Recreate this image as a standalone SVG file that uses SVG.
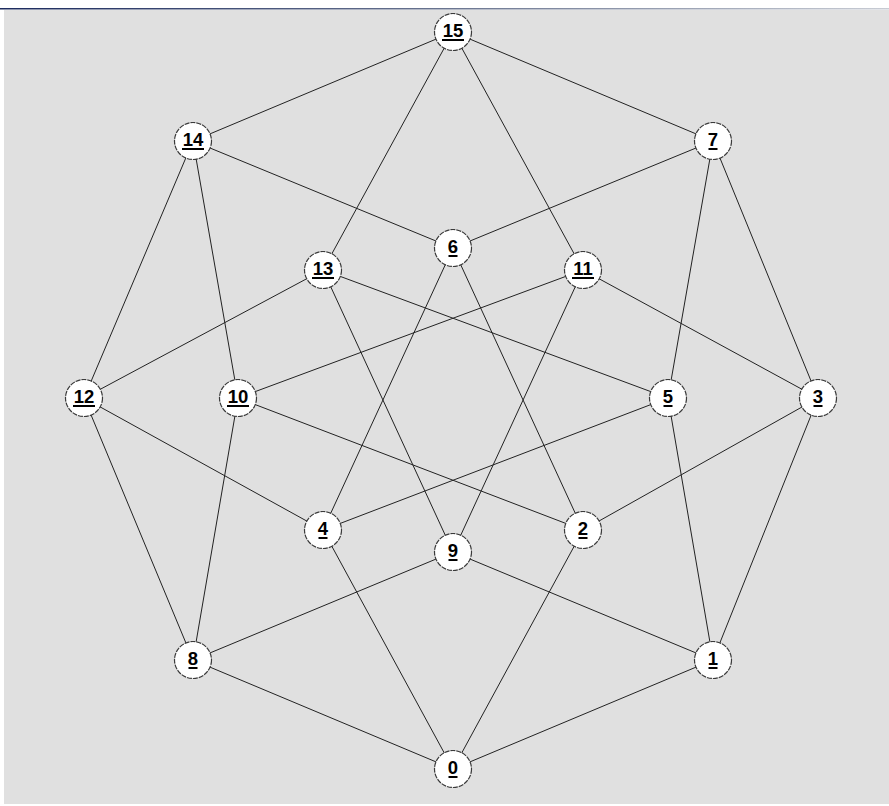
<svg xmlns="http://www.w3.org/2000/svg" width="889" height="806" viewBox="0 0 889 806">
<defs>
<linearGradient id="bar" x1="0" y1="0" x2="1" y2="0">
<stop offset="0" stop-color="#1c2b5e"/>
<stop offset="0.5" stop-color="#6a7590"/>
<stop offset="1" stop-color="#c8ccd4"/>
</linearGradient>
<style>
.e{stroke:#222;stroke-width:1;fill:none}
.n circle{fill:#fff;stroke:#3a3a3a;stroke-width:1.2;stroke-dasharray:5 1}
.n text{font-family:"Liberation Sans",Arial,sans-serif;font-weight:bold;font-size:18.5px;fill:#000;text-anchor:middle}
.n rect{fill:#000}
</style>
</defs>
<rect x="0" y="0" width="889" height="806" fill="#fff"/>
<rect x="0" y="8" width="889" height="1.5" fill="url(#bar)"/>
<rect x="4" y="10" width="885" height="794" fill="#e0e0e0"/>
<g id="edges">
<line class="e" x1="453" y1="769" x2="713" y2="660"/>
<line class="e" x1="453" y1="769" x2="583" y2="530"/>
<line class="e" x1="453" y1="769" x2="323" y2="530"/>
<line class="e" x1="453" y1="769" x2="193" y2="660"/>
<line class="e" x1="713" y1="660" x2="818" y2="398"/>
<line class="e" x1="713" y1="660" x2="668" y2="398"/>
<line class="e" x1="713" y1="660" x2="453" y2="552"/>
<line class="e" x1="583" y1="530" x2="818" y2="398"/>
<line class="e" x1="583" y1="530" x2="453" y2="248"/>
<line class="e" x1="583" y1="530" x2="238" y2="398"/>
<line class="e" x1="818" y1="398" x2="713" y2="141"/>
<line class="e" x1="818" y1="398" x2="583" y2="270"/>
<line class="e" x1="323" y1="530" x2="668" y2="398"/>
<line class="e" x1="323" y1="530" x2="453" y2="248"/>
<line class="e" x1="323" y1="530" x2="84" y2="398"/>
<line class="e" x1="668" y1="398" x2="713" y2="141"/>
<line class="e" x1="668" y1="398" x2="323" y2="270"/>
<line class="e" x1="453" y1="248" x2="713" y2="141"/>
<line class="e" x1="453" y1="248" x2="193" y2="141"/>
<line class="e" x1="713" y1="141" x2="453" y2="32"/>
<line class="e" x1="193" y1="660" x2="453" y2="552"/>
<line class="e" x1="193" y1="660" x2="238" y2="398"/>
<line class="e" x1="193" y1="660" x2="84" y2="398"/>
<line class="e" x1="453" y1="552" x2="583" y2="270"/>
<line class="e" x1="453" y1="552" x2="323" y2="270"/>
<line class="e" x1="238" y1="398" x2="583" y2="270"/>
<line class="e" x1="238" y1="398" x2="193" y2="141"/>
<line class="e" x1="583" y1="270" x2="453" y2="32"/>
<line class="e" x1="84" y1="398" x2="323" y2="270"/>
<line class="e" x1="84" y1="398" x2="193" y2="141"/>
<line class="e" x1="323" y1="270" x2="453" y2="32"/>
<line class="e" x1="193" y1="141" x2="453" y2="32"/>
</g>
<g id="n0" class="n"><circle cx="453" cy="769" r="18.5"/><text x="453" y="774">0</text><rect x="448.5" y="776" width="9" height="2"/></g>
<g id="n1" class="n"><circle cx="713" cy="660" r="18.5"/><text x="713" y="665">1</text><rect x="708.5" y="667" width="9" height="2"/></g>
<g id="n2" class="n"><circle cx="583" cy="530" r="18.5"/><text x="583" y="535">2</text><rect x="578.5" y="537" width="9" height="2"/></g>
<g id="n3" class="n"><circle cx="818" cy="398" r="18.5"/><text x="818" y="403">3</text><rect x="813.5" y="405" width="9" height="2"/></g>
<g id="n4" class="n"><circle cx="323" cy="530" r="18.5"/><text x="323" y="535">4</text><rect x="318.5" y="537" width="9" height="2"/></g>
<g id="n5" class="n"><circle cx="668" cy="398" r="18.5"/><text x="668" y="403">5</text><rect x="663.5" y="405" width="9" height="2"/></g>
<g id="n6" class="n"><circle cx="453" cy="248" r="18.5"/><text x="453" y="253">6</text><rect x="448.5" y="255" width="9" height="2"/></g>
<g id="n7" class="n"><circle cx="713" cy="141" r="18.5"/><text x="713" y="146">7</text><rect x="708.5" y="148" width="9" height="2"/></g>
<g id="n8" class="n"><circle cx="193" cy="660" r="18.5"/><text x="193" y="665">8</text><rect x="188.5" y="667" width="9" height="2"/></g>
<g id="n9" class="n"><circle cx="453" cy="552" r="18.5"/><text x="453" y="557">9</text><rect x="448.5" y="559" width="9" height="2"/></g>
<g id="n10" class="n"><circle cx="238" cy="398" r="18.5"/><text x="238" y="403">10</text><rect x="227" y="405" width="22" height="2"/></g>
<g id="n11" class="n"><circle cx="583" cy="270" r="18.5"/><text x="583" y="275">11</text><rect x="572" y="277" width="22" height="2"/></g>
<g id="n12" class="n"><circle cx="84" cy="398" r="18.5"/><text x="84" y="403">12</text><rect x="73" y="405" width="22" height="2"/></g>
<g id="n13" class="n"><circle cx="323" cy="270" r="18.5"/><text x="323" y="275">13</text><rect x="312" y="277" width="22" height="2"/></g>
<g id="n14" class="n"><circle cx="193" cy="141" r="18.5"/><text x="193" y="146">14</text><rect x="182" y="148" width="22" height="2"/></g>
<g id="n15" class="n"><circle cx="453" cy="32" r="18.5"/><text x="453" y="37">15</text><rect x="442" y="39" width="22" height="2"/></g>
</svg>
